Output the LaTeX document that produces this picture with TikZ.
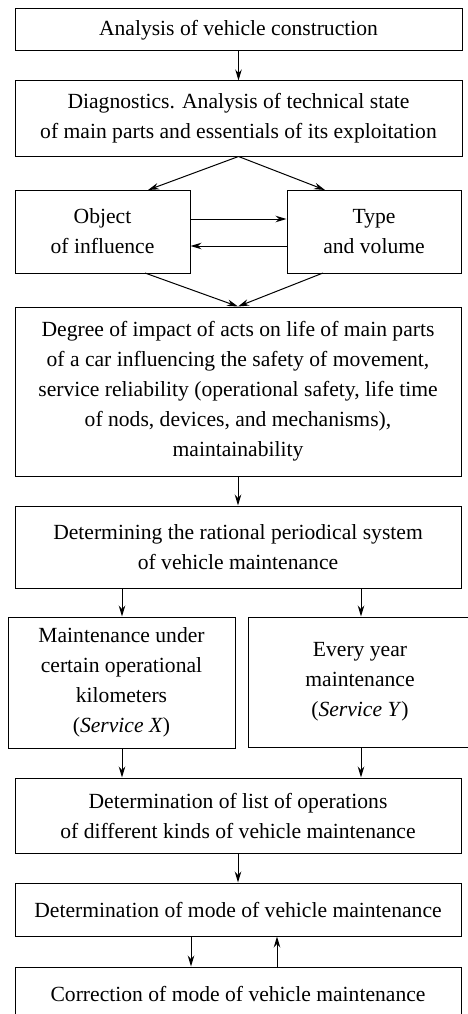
\documentclass[tikz,border=0pt]{standalone}
\usepackage{fontspec}
\setmainfont{Liberation Serif}
\usetikzlibrary{arrows.meta}
\begin{document}
\begin{tikzpicture}[x=1pt,y=-1pt,
  box/.style={draw,line width=1pt,rectangle,inner sep=0pt,align=center,
    font=\fontsize{21.6}{30}\selectfont},
  arr/.style={line width=1pt,-{Stealth[length=11pt,width=6.5pt]}}]
\clip (0,0) rectangle (468,1014);
\useasboundingbox (0,0) rectangle (468,1014);
\node[box,minimum width=447pt,minimum height=42pt] (b1) at (238.5,30) {Analysis of vehicle construction};
\node[box,minimum width=447pt,minimum height=75pt] (b2) at (238.5,118.5) {Diagnostics. Analysis of technical state\\of main parts and essentials of its exploitation};
\node[box,minimum width=175pt,minimum height=83pt] (b3) at (102.5,231.5) {Object\\of influence};
\node[box,minimum width=174pt,minimum height=83pt] (b4) at (374,231.5) {Type\\and volume};
\node[box,minimum width=446pt,minimum height=169pt] (b5) at (238,391.5) {Degree of impact of acts on life of main parts\\of a car influencing the safety of movement,\\service reliability (operational safety, life time\\of nods, devices, and mechanisms),\\maintainability};
\node[box,minimum width=446pt,minimum height=82pt] (b6) at (238,547) {Determining the rational periodical system\\of vehicle maintenance};
\node[box,minimum width=227pt,minimum height=131pt] (b7) at (121.5,682.5) {Maintenance under\\certain operational\\kilometers\\(\textit{Service X\/})};
\node[box,minimum width=224pt,minimum height=130pt] (b8) at (360,682) {Every year\\maintenance\\(\textit{Service Y\/})};
\node[box,minimum width=446pt,minimum height=75pt] (b9) at (238,815.5) {Determination of list of operations\\of different kinds of vehicle maintenance};
\node[box,minimum width=446pt,minimum height=53pt] (b10) at (238,909.5) {Determination of mode of vehicle maintenance};
\node[box,minimum width=446pt,minimum height=53pt] (b11) at (238,993.5) {Correction of mode of vehicle maintenance};
% connectors
\draw[arr] (b1.south) -- (b2.north);
\coordinate (t3) at (148,190);
\coordinate (t4) at (325,190);
\draw[arr] (b2.south) -- (t3);
\draw[arr] (b2.south) -- (t4);
\draw[arr] (b3.east |- 0,219) -- (b4.west |- 0,219);
\draw[arr] (b4.west |- 0,246) -- (b3.east |- 0,246);
\coordinate (s3) at (145,273);
\coordinate (s4) at (323,273);
\draw[arr] (s3) -- (b5.north);
\draw[arr] (s4) -- (b5.north);
\draw[arr] (b5.south) -- (b6.north);
\draw[arr] (b6.south -| 122,0) -- (b7.north -| 122,0);
\draw[arr] (b6.south -| 361,0) -- (b8.north -| 361,0);
\draw[arr] (b7.south -| 122,0) -- (b9.north -| 122,0);
\draw[arr] (b8.south -| 361,0) -- (b9.north -| 361,0);
\draw[arr] (b9.south) -- (b10.north);
\draw[arr] (b10.south -| 191,0) -- (b11.north -| 191,0);
\draw[arr] (b11.north -| 277,0) -- (b10.south -| 277,0);
\end{tikzpicture}
\end{document}
